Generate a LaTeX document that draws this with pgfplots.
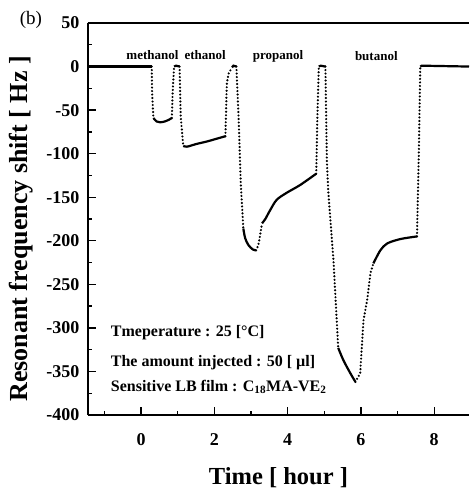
\documentclass[border=0pt]{standalone}
\usepackage{fontspec}
\setmainfont{Liberation Serif}
\usepackage{pgfplots}
\pgfplotsset{compat=1.18}
\begin{document}
\begin{tikzpicture}
\useasboundingbox (-88pt,-77pt) rectangle (381pt,415pt);
\begin{axis}[
  at={(0,0)}, anchor=south west,
  scale only axis, width=381pt, height=392pt,
  xmin=-1.45, xmax=8.95, ymin=-400, ymax=50,
  axis lines=left, axis line style={-, line width=1.6pt},
  tick align=inside,
  xtick={0,2,4,6,8}, minor xtick={-1,1,3,5,7},
  ytick={-400,-350,...,50}, minor ytick={-375,-325,...,25},
  major tick length=8pt, minor tick length=4pt,
  every tick/.style={black, line width=1.4pt},
  tick label style={font=\bfseries\fontsize{18}{18}\selectfont},
  /pgf/number format/assume math mode=true,
  xticklabel style={yshift=-15pt},
  yticklabel style={xshift=-5pt},
  xlabel={Time [ hour ]}, ylabel={Resonant frequency shift [ Hz ]},
  x label style={font=\bfseries\fontsize{24.5}{24.5}\selectfont, at={(axis description cs:0.50,-0.16)}, anchor=center},
  y label style={font=\bfseries\fontsize{26}{26}\selectfont, at={(axis description cs:-0.176,0.475)}, anchor=center},
  clip=false,
]
% solid segments
\addplot[black, line width=2.2pt] coordinates {(-1.45,0) (0.29,0)};
\addplot[black, line width=2.2pt, smooth] coordinates {(0.335,-59) (0.42,-63) (0.52,-64) (0.65,-63) (0.76,-61) (0.84,-59)};
\addplot[black, line width=2.2pt] coordinates {(0.90,0) (0.95,1) (1.05,0)};
\addplot[black, line width=2.2pt, smooth] coordinates {(1.15,-91) (1.25,-92) (1.5,-89) (1.8,-86) (2.05,-83) (2.30,-80)};
\addplot[black, line width=2.2pt] coordinates {(2.48,-1) (2.52,1) (2.6,0)};
\addplot[black, line width=2.2pt, smooth] coordinates {(2.79,-186) (2.84,-197) (2.93,-205) (3.05,-210) (3.14,-211)};
\addplot[black, line width=2.2pt, smooth] coordinates {(3.30,-180) (3.39,-175) (3.52,-165) (3.70,-153) (3.97,-145) (4.34,-136) (4.78,-123)};
\addplot[black, line width=2.2pt] coordinates {(4.85,0) (4.9,1) (5.03,0)};
\addplot[black, line width=2.2pt, smooth] coordinates {(5.38,-323) (5.52,-337) (5.71,-352) (5.85,-362)};
\addplot[black, line width=2.2pt, smooth] coordinates {(6.34,-226) (6.53,-211) (6.72,-203) (7.08,-198) (7.53,-195)};
\addplot[black, line width=2.2pt] coordinates {(7.62,0) (7.66,1) (8.95,0)};
% dotted transitions
\pgfplotsset{dotted seg/.style={black, line width=2.4pt, line cap=round, dash pattern=on 0pt off 3.5pt}}
\addplot[dotted seg] coordinates {(0.29,0) (0.30,-30) (0.335,-59)};
\addplot[dotted seg] coordinates {(0.84,-59) (0.86,-30) (0.90,0)};
\addplot[dotted seg] coordinates {(1.05,0) (1.08,-57) (1.15,-91)};
\addplot[dotted seg] coordinates {(2.30,-80) (2.34,-19) (2.39,-8) (2.48,-1)};
\addplot[dotted seg] coordinates {(2.6,0) (2.66,-58) (2.72,-134) (2.79,-186)};
\addplot[dotted seg] coordinates {(3.14,-211) (3.20,-205) (3.25,-193) (3.30,-180)};
\addplot[dotted seg] coordinates {(4.78,-123) (4.81,-60) (4.85,0)};
\addplot[dotted seg] coordinates {(5.03,0) (5.07,-108) (5.11,-145) (5.25,-222) (5.38,-323)};
\addplot[dotted seg] coordinates {(5.85,-362) (5.98,-352) (6.07,-291) (6.17,-268) (6.26,-237) (6.34,-226)};
\addplot[dotted seg] coordinates {(7.53,-195) (7.58,-100) (7.62,0)};
% top frame line
\draw[line width=1.6pt] (rel axis cs:0,1) -- (rel axis cs:1,1);
% annotations
\begin{scope}[every node/.style={font=\bfseries\fontsize{13}{13}\selectfont}]
\node at (axis cs:0.31,13) {methanol};
\node at (axis cs:1.75,13) {ethanol};
\node at (axis cs:3.74,12) {propanol};
\node at (axis cs:6.42,12) {butanol};
\end{scope}
\begin{scope}[every node/.style={font=\bfseries\fontsize{16}{16}\selectfont, anchor=west, inner sep=0pt}]
\node at (axis cs:-0.83,-306) {Tmeperature : 25 [\textdegree C]};
\node at (axis cs:-0.83,-340) {The amount injected : 50 [ µl]};
\node at (axis cs:-0.83,-368) {Sensitive LB film : C\textsubscript{18}MA-VE\textsubscript{2}};
\end{scope}
\node[font=\fontsize{19}{19}\selectfont] at (axis description cs:-0.15,1.008) {(b)};
\end{axis}
\end{tikzpicture}
\end{document}
